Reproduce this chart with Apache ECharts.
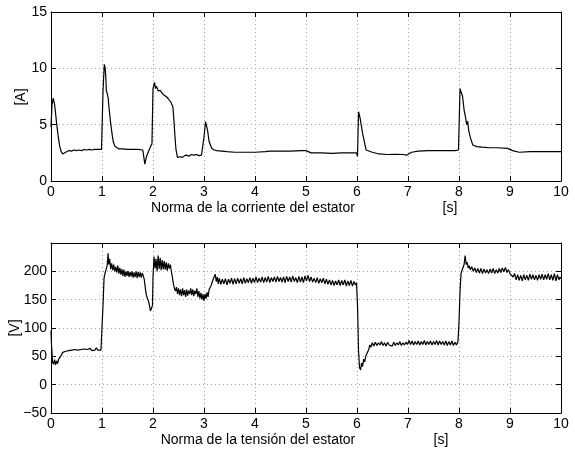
<!DOCTYPE html>
<html>
<head>
<meta charset="utf-8">
<script src="https://cdn.jsdelivr.net/npm/echarts@6/dist/echarts.min.js"></script>
<style>html,body{margin:0;padding:0;background:#fff}#c{width:575px;height:450px}</style>
</head>
<body>
<div id="c"></div>
<script>
// ---------- DATA ----------
const xTicks = [0,1,2,3,4,5,6,7,8,9,10];
const currentTicks = [0,5,10,15];
const voltageTicks = [-50,0,50,100,150,200,250];

const currentT = [0,0.02,0.045,0.07,0.09,0.11,0.14,0.17,0.20,0.23,0.27,0.30,0.35,0.40,0.45,0.50,0.55,0.60,0.65,0.70,0.75,0.80,0.85,0.90,0.95,0.99,
1.02,1.045,1.06,1.075,1.085,1.10,1.12,1.14,1.17,1.20,1.22,1.25,1.28,1.33,1.40,1.50,1.60,1.70,1.80,1.82,1.84,1.87,1.91,1.95,1.98,
2.00,2.03,2.05,2.07,2.10,2.14,2.18,2.22,2.26,2.30,2.35,2.39,2.41,2.43,2.45,2.48,2.50,2.54,2.58,2.62,2.66,2.70,2.75,2.80,2.85,2.90,2.95,2.98,
3.00,3.03,3.07,3.10,3.15,3.20,3.25,3.35,3.45,3.60,3.80,4.00,4.20,4.30,4.50,4.70,4.90,5.00,5.10,5.30,5.50,5.70,5.90,5.99,
6.01,6.03,6.06,6.11,6.18,6.20,6.30,6.43,6.60,6.75,6.90,6.98,7.07,7.20,7.40,7.60,7.80,7.92,7.99,
8.02,8.04,8.07,8.10,8.13,8.15,8.17,8.19,8.22,8.27,8.35,8.45,8.60,8.75,8.95,9.05,9.18,9.40,9.60,9.80,10.00];
const currentA = [4.8,6.8,7.35,6.8,6.0,5.1,4.0,3.1,2.6,2.4,2.5,2.65,2.7,2.65,2.75,2.7,2.75,2.7,2.8,2.75,2.8,2.75,2.8,2.8,2.8,2.8,
8.0,10.35,10.1,9.2,8.0,7.8,7.4,6.4,5.1,4.1,3.5,3.1,2.95,2.85,2.85,2.8,2.8,2.8,2.75,2.6,1.5,2.15,2.6,3.05,3.3,
8.2,8.75,8.2,8.4,8.0,8.05,7.8,7.6,7.5,7.3,7.0,6.6,5.4,4.0,2.8,2.1,2.0,2.15,2.1,2.25,2.3,2.2,2.35,2.3,2.35,2.25,2.3,2.25,
3.9,5.27,4.5,3.5,2.9,2.75,2.7,2.65,2.6,2.55,2.55,2.55,2.6,2.65,2.65,2.65,2.7,2.7,2.5,2.5,2.45,2.5,2.5,2.5,
2.2,6.15,5.6,4.2,2.75,2.65,2.55,2.4,2.35,2.37,2.35,2.3,2.55,2.65,2.7,2.7,2.7,2.7,2.75,
8.2,8.3,7.5,6.3,5.6,5.0,5.3,4.5,3.9,3.2,3.05,3.0,2.95,2.95,2.9,2.7,2.55,2.6,2.6,2.6,2.6];

const voltageT = [0,0.01,0.03,0.05,0.07,0.09,0.11,0.13,0.15,0.17,0.19,0.21,0.23,0.26,0.29,0.32,0.35,0.38,0.41,0.44,0.47,0.50,0.53,0.56,0.59,0.62,0.65,0.68,0.71,0.74,0.77,0.80,0.83,0.86,0.89,0.92,0.95,0.98,
1.00,1.02,1.04,1.06,1.08,1.10,1.12,1.13,1.15,1.17,1.19,1.21,1.23,1.25,1.27,1.29,1.31,1.33,1.35,1.37,1.39,1.41,1.43,1.45,1.47,1.49,1.51,1.53,1.55,1.57,1.59,1.61,1.63,1.65,1.67,1.69,1.71,1.73,1.75,1.77,1.79,1.81,1.83,1.85,1.87,1.89,1.91,1.93,1.95,1.97,1.99,
2.00,2.02,2.04,2.06,2.08,2.10,2.12,2.14,2.16,2.18,2.20,2.22,2.24,2.26,2.28,2.30,2.32,2.34,2.36,2.38,2.40,2.42,2.44,2.46,2.48,2.50,2.52,2.54,2.56,2.58,2.60,2.62,2.64,2.66,2.68,2.70,2.72,2.74,2.76,2.78,2.80,2.82,2.84,2.86,2.88,2.90,2.92,2.94,2.96,2.98,
3.00,3.02,3.04,3.06,3.08,3.10,3.12,3.14,3.16,3.18,3.20,3.22,3.24,3.26,3.28,3.30,3.33,3.36,3.39,3.42,3.45,3.48,3.51,3.54,3.57,3.60,3.63,3.66,3.69,3.72,3.75,3.78,3.81,3.84,3.87,3.90,3.93,3.96,3.99,
4.02,4.05,4.08,4.11,4.14,4.17,4.20,4.23,4.26,4.29,4.32,4.35,4.38,4.41,4.44,4.47,4.50,4.53,4.56,4.59,4.62,4.65,4.68,4.71,4.74,4.77,4.80,4.83,4.86,4.89,4.92,4.95,4.98,
5.01,5.04,5.07,5.10,5.13,5.16,5.19,5.22,5.25,5.28,5.31,5.34,5.37,5.40,5.43,5.46,5.49,5.52,5.55,5.58,5.61,5.64,5.67,5.70,5.73,5.76,5.79,5.82,5.85,5.88,5.91,5.94,5.97,5.99,
6.01,6.03,6.05,6.07,6.09,6.11,6.13,6.15,6.17,6.19,6.21,6.23,6.25,6.27,6.30,6.33,6.36,6.39,6.42,6.45,6.48,6.51,6.54,6.57,6.60,6.63,6.66,6.69,6.72,6.75,6.78,6.81,6.84,6.87,6.90,6.93,6.96,6.99,
7.02,7.05,7.08,7.11,7.14,7.17,7.20,7.23,7.26,7.29,7.32,7.35,7.38,7.41,7.44,7.47,7.50,7.53,7.56,7.59,7.62,7.65,7.68,7.71,7.74,7.77,7.80,7.83,7.86,7.89,7.92,7.95,7.98,
8.00,8.02,8.04,8.06,8.08,8.10,8.12,8.14,8.16,8.18,8.20,8.22,8.25,8.28,8.31,8.34,8.37,8.40,8.43,8.46,8.49,8.52,8.55,8.58,8.61,8.64,8.67,8.70,8.73,8.76,8.79,8.82,8.85,8.88,8.91,8.94,8.97,
9.00,9.03,9.06,9.09,9.12,9.15,9.18,9.21,9.24,9.27,9.30,9.33,9.36,9.39,9.42,9.45,9.48,9.51,9.54,9.57,9.60,9.63,9.66,9.69,9.72,9.75,9.78,9.81,9.84,9.87,9.90,9.93,9.96,9.98,10.00];
const voltageV = [95,70,40,36,44,35,42,37,45,42,50,53,57,55,59,57,60,58,61,58,62,59,61,58,62,59,63,60,62,59,64,60,63,61,65,61,64,61,
64,140,188,197,203,210,232,212,222,204,214,202,212,200,208,198,210,196,206,194,204,192,203,190,200,192,201,190,199,191,200,189,198,190,200,188,199,190,198,189,197,192,185,170,158,152,148,140,130,128,140,
190,226,205,222,200,228,204,224,202,220,204,218,203,216,201,214,205,212,200,190,178,170,165,172,160,170,158,168,156,170,158,167,155,168,157,166,160,170,158,168,156,166,160,170,155,165,152,162,150,160,
148,160,152,163,155,168,165,175,178,186,183,195,182,190,178,188,177,186,178,187,176,186,179,188,177,187,178,188,179,187,178,189,179,187,180,189,179,188,180,
190,180,188,181,190,180,189,181,191,180,189,182,190,181,191,182,189,181,190,180,191,182,190,181,192,182,189,180,191,181,190,180,192,
183,193,182,190,181,188,180,189,179,187,180,188,178,186,177,185,176,184,175,183,176,185,175,184,176,185,174,183,175,184,174,182,176,180,
140,60,30,26,38,32,45,40,50,48,58,62,70,66,74,68,75,69,74,70,76,69,74,68,75,70,73,68,75,69,74,70,76,69,74,70,75,71,
78,71,77,70,76,71,77,70,76,71,78,70,76,71,77,70,76,71,78,70,77,71,76,70,77,69,76,70,77,69,75,70,76,
110,165,196,202,205,212,228,212,216,206,210,203,208,200,206,198,205,197,205,196,204,197,203,196,204,197,205,196,203,197,205,198,206,199,207,198,203,
196,199,190,196,185,194,184,193,183,194,185,193,184,195,186,194,185,193,184,194,186,195,185,194,186,196,185,194,184,196,183,194,185,190,187];

// ---------- CHART ----------
const FONT = '"Liberation Sans", Arial, Helvetica, sans-serif';
const FS = 14;
const chart = echarts.init(document.getElementById('c'), null, {renderer: 'canvas'});
const pair = (t, v) => t.map((x, i) => [x, v[i]]);
const minusFmt = v => (v === 250 ? '' : String(v).replace('-', '\u2212'));

const grids = [
  {left: 51, top: 12, width: 510, height: 169},
  {left: 51, top: 243, width: 510, height: 170}
];
const gridLine = {show: true, lineStyle: {color: '#a8a8a8', width: 1, type: [1, 3]}};
const axLine = {show: true, onZero: false, lineStyle: {color: '#000', width: 1}};
const tickIn = {show: true, inside: true, length: 5, lineStyle: {color: '#000'}};
const lbl = {color: '#000', fontFamily: FONT, fontSize: FS};

function xAxes(gi) {
  return [
    {gridIndex: gi, type: 'value', min: xTicks[0], max: xTicks[xTicks.length-1], interval: 1, position: 'bottom',
     axisLine: axLine, axisTick: tickIn, splitLine: gridLine, axisLabel: Object.assign({margin: 4}, lbl)},
    {gridIndex: gi, type: 'value', min: xTicks[0], max: xTicks[xTicks.length-1], interval: 1, position: 'top',
     axisLine: axLine, axisTick: tickIn, splitLine: {show: false}, axisLabel: {show: false}}
  ];
}
function yAxes(gi, ticks, step) {
  return [
    {gridIndex: gi, type: 'value', min: ticks[0], max: ticks[ticks.length-1], interval: step, position: 'left',
     axisLine: axLine, axisTick: tickIn, splitLine: gridLine, axisLabel: Object.assign({margin: 4, formatter: minusFmt}, lbl)},
    {gridIndex: gi, type: 'value', min: ticks[0], max: ticks[ticks.length-1], interval: step, position: 'right',
     axisLine: axLine, axisTick: tickIn, splitLine: {show: false}, axisLabel: {show: false}}
  ];
}

const txt = (s, x, y, rot) => ({type: 'text', x: x, y: y, rotation: rot || 0,
  style: {text: s, font: FS + 'px ' + FONT, fill: '#000', align: 'center', verticalAlign: 'middle'}});

chart.setOption({
  animation: false,
  backgroundColor: '#fff',
  grid: grids,
  xAxis: [].concat(xAxes(0), xAxes(1)),
  yAxis: [].concat(yAxes(0, currentTicks, 5), yAxes(1, voltageTicks, 50)),
  series: [
    {type: 'line', xAxisIndex: 0, yAxisIndex: 0, data: pair(currentT, currentA), showSymbol: false,
     lineStyle: {color: '#000', width: 1.2}, silent: true},
    {type: 'line', xAxisIndex: 2, yAxisIndex: 2, data: pair(voltageT, voltageV), showSymbol: false,
     lineStyle: {color: '#000', width: 1.2}, silent: true}
  ],
  graphic: [
    txt('Norma de la corriente del estator', 253, 208),
    txt('[s]', 450, 208),
    txt('Norma de la tensión del estator', 258, 440),
    txt('[s]', 441, 440),
    txt('[A]', 21, 97, Math.PI / 2),
    txt('[V]', 15, 328, Math.PI / 2)
  ]
});
</script>
</body>
</html>
